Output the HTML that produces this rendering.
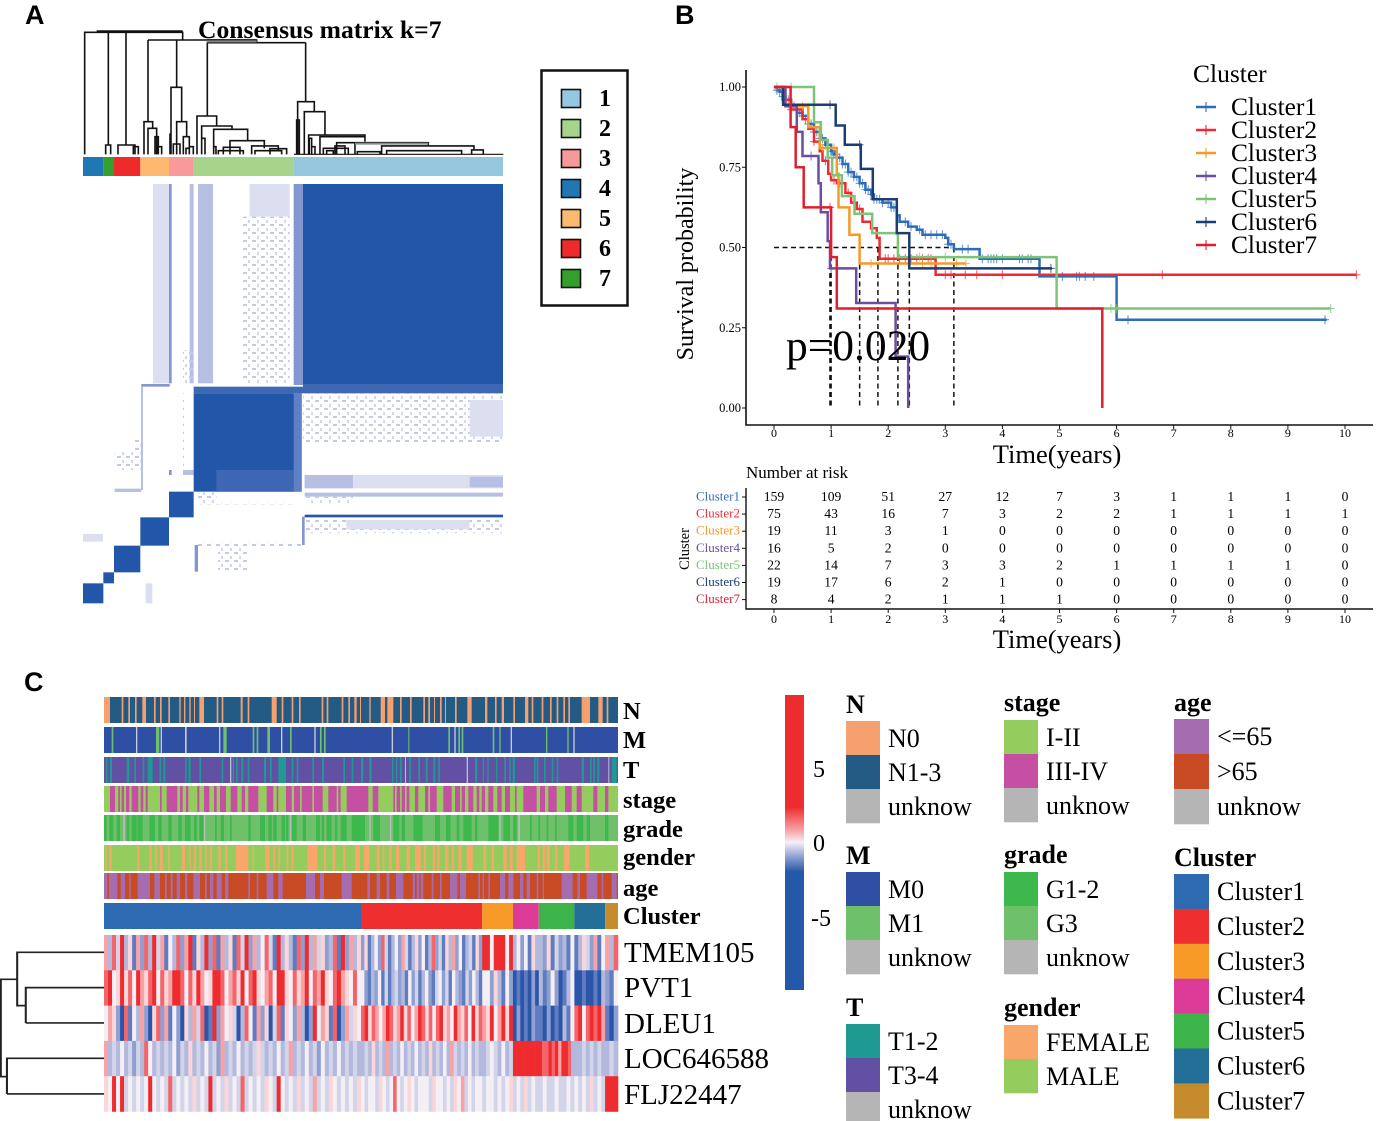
<!DOCTYPE html>
<html lang="en">
<head>
<meta charset="utf-8">
<title>Consensus clustering, survival and heatmap figure</title>
<style>
html,body{margin:0;padding:0;background:#fff;}
svg{display:block;}
text{font-family:"Liberation Serif","DejaVu Serif",serif;fill:#000;}
.panel{font-family:"Liberation Sans","DejaVu Sans",sans-serif;font-weight:700;font-size:27px;}
</style>
</head>
<body>
<svg id="fig" xmlns="http://www.w3.org/2000/svg" width="1380" height="1121" viewBox="0 0 1380 1121">
<defs>
<pattern id="dots" width="9" height="8" patternUnits="userSpaceOnUse">
<rect x="0" y="0" width="4" height="2" fill="#c3c9e6"/>
<rect x="5" y="4" width="2" height="3" fill="#d3d7ec"/>
</pattern>
<linearGradient id="cbar" x1="0" y1="0" x2="0" y2="1">
<stop offset="0" stop-color="#ee2c2f"/>
<stop offset="0.38" stop-color="#ee2c2f"/>
<stop offset="0.46" stop-color="#f7a5a8"/>
<stop offset="0.5" stop-color="#f4f0f6"/>
<stop offset="0.55" stop-color="#8d9dd0"/>
<stop offset="0.6" stop-color="#2458a8"/>
<stop offset="1" stop-color="#2458a8"/>
</linearGradient>
</defs>
<rect width="1380" height="1121" fill="#fff"/>
<text class="panel" x="25" y="24">A</text>
<text class="panel" x="675" y="24">B</text>
<text class="panel" x="24" y="691">C</text>

<!-- Panel A -->
<g id="panelA">
<g transform="translate(70,20) scale(.3333)" fill="none" stroke="#111" stroke-width="4.8">
<path d="M44 403V37H338V60M80 33H338M115 37V375M107 403V375H122V403M168 37V375M144 403V375H195V403M190 403V380H205V403"/>
<path d="M234 60H560M234 60V305M222 403V305H248V325M234 403V325H260V403M255 403V350H265V403M262 403V380H275V403"/>
<path d="M320 60V202M303 403V202H335V305M320 403V305H350V350M340 403V350H358V380H370V403M310 403V372H330V403M300 403V340M348 403V385H358V403"/>
<path d="M412 68H707M410 60H560V68M412 68V288M381 403V288H440V318M395 403V318H486V325M431 403V328H533V360M480 403V362H583V385M545 403V378H625V392M555 403V392H635V403M600 403V386H650V403M395 403V355H405V403M431 403V380H438V403M445 403V392H520V403M460 403V382H510V403"/>
<path d="M707 68V245M683 403V245H733V275M703 403V275H765V345M716 403V345H885V365M750 403V350H885M855 403V368H1075V378M935 403V378H1212V392M950 403V392H1175V403M862 403V395H930V403M1205 403V390H1240V403M760 403V385H835V403M795 403V378H825V403M680 403V300H688V403M718 403V355H725V403M725 403V380H735V403M770 403V392H790V403M800 403V368H855"/>
<path d="M672 403H1300" stroke-width="3.5"/>
<path d="M410 64H560M855 371H1075" stroke="#888" stroke-width="6"/>
</g>
<g id="consensusBar"></g>
<g id="consensusMatrix"></g>
<text x="198" y="38" font-weight="700" font-size="25.6">Consensus matrix k=7</text>
<g>
<rect x="541.5" y="70.5" width="86" height="235" fill="#fff" stroke="#111" stroke-width="2.5"/>
<g id="consensusLegend"></g>
</g>
</g>

<!-- Panel B -->
<g id="panelB">
<g id="kmDash"></g>
<g id="kmLines"></g>
<path d="M746 70V425H1373" fill="none" stroke="#111" stroke-width="1.6"/>
<g id="kmAxis"></g>
<text transform="translate(693,264) rotate(-90)" text-anchor="middle" font-size="24">Survival probability</text>
<text x="1057" y="463" text-anchor="middle" font-size="26.5">Time(years)</text>
<text x="786" y="360" font-size="43.5">p=0.020</text>
<text x="1193" y="82" font-size="25.5">Cluster</text>
<g id="kmLegend"></g>
<text x="746" y="478" font-size="17">Number at risk</text>
<text transform="translate(689,549) rotate(-90)" text-anchor="middle" font-size="14.5">Cluster</text>
<path d="M746 488V609H1373" fill="none" stroke="#111" stroke-width="1.4"/>
<g id="riskTable"></g>
<text x="1057" y="648" text-anchor="middle" font-size="26.5">Time(years)</text>
</g>

<!-- Panel C -->
<g id="panelC">
<g transform="translate(0,690) scale(.409,.3333)" fill="none" stroke="#222" stroke-width="5">
<path d="M255 787H42V947H63M63 999V893H255M63 999H255M42 868H2V1160H17M17 1212V1105H255M17 1212H255"/>
</g>
<g id="annotations"></g>
<g id="heatmap"></g>
<rect x="785" y="695" width="19" height="295" fill="url(#cbar)"/>
<text x="813" y="777" font-size="24">5</text>
<text x="813" y="851" font-size="24">0</text>
<text x="811" y="926" font-size="24">-5</text>
<g id="heatLegend"></g>
</g>
</svg>

<script>
// ---------- Panel A data (matrix grid units) ----------
var consensusEdges=[40,101,133,212,298,372,672,1300];
var consensusBarColors=['#1f78b4','#33a02c','#ee2a2a','#fdb96f','#f89a9b','#a6d48a','#95c8de'];
var consensusBlockY=[1270,1210,1177,1097,1012,935,640,12];
var consensusRegions=[
[250,298,12,610,'f'],[298,306,12,610,'m'],[360,372,12,610,'l'],[385,430,12,610,'l'],
[540,660,12,110,'f'],[515,660,110,610,'p'],[672,700,12,615,'m'],[700,1300,612,640,'k'],
[372,700,620,640,'k'],[215,300,612,620,'m'],[214,220,620,930,'l'],[135,215,926,936,'l'],
[190,215,780,870,'p'],[135,190,810,870,'p'],
[700,1300,640,790,'p'],[1200,1300,660,770,'f'],[705,1300,885,925,'f'],[1200,1300,890,922,'l'],
[705,850,885,925,'l'],[705,1300,938,950,'l'],[705,850,950,970,'p'],[705,1300,1004,1012,'d'],
[705,1300,1018,1060,'p'],[830,1200,1020,1048,'f'],[697,705,1010,1095,'m'],[385,700,1088,1098,'p'],
[375,385,1095,1175,'m'],[445,535,1100,1175,'p'],[40,100,1062,1085,'f'],[228,248,1210,1270,'f'],
[298,306,870,885,'m'],[340,372,870,885,'l'],[340,345,640,870,'p'],[298,303,620,930,'p'],
[385,440,935,970,'p'],[390,670,968,973,'p'],[340,372,510,610,'p']
];
var consensusLegendNames=['1','2','3','4','5','6','7'];
var consensusLegendColors=['#95c8de','#a6d48a','#f59a99','#1f78b4','#fdb96f','#ee2a2a','#33a02c'];

// ---------- Panel B data ----------
var timeTicks=[0,1,2,3,4,5,6,7,8,9,10];
var survivalTicks=['0.00','0.25','0.50','0.75','1.00'];
var clusterNames=['Cluster1','Cluster2','Cluster3','Cluster4','Cluster5','Cluster6','Cluster7'];
var clusterColors=['#2d6db8','#ee2a33','#f59a28','#6a4f9c','#7cc576','#1c3c74','#e01f2e'];

var cluster1Times=[0,.05,.1,.15,.2,.3,.4,.5,.6,.7,.8,.9,1,1.05,1.1,1.2,1.3,1.4,1.5,1.6,1.7,1.75,1.9,2.05,2.15,2.2,2.35,2.5,2.6,3,3.05,3.15,3.6,4.65,6,9.68];
var cluster1Surv=[1,.99,.985,.97,.96,.94,.92,.91,.885,.86,.84,.82,.80,.79,.78,.76,.735,.72,.70,.68,.665,.65,.64,.625,.60,.58,.565,.555,.54,.53,.51,.495,.465,.41,.275,.275];
var cluster1Censor=[.05,.1,.15,.25,.3,.35,.45,.5,.6,.65,.7,.75,.8,.85,.9,.95,1,1.02,1.05,1.08,1.1,1.15,1.2,1.25,1.3,1.35,1.4,1.45,1.5,1.55,1.6,1.65,1.7,1.75,1.8,1.85,1.9,2,2.05,2.1,2.3,2.4,2.55,2.65,2.75,2.85,2.95,3.05,3.1,3.3,3.4,3.65,3.75,3.8,3.85,3.9,4,4.3,4.35,4.45,4.5,5.05,5.3,5.35,5.45,5.6,6.2,9.65];

var cluster2Times=[0,.15,.3,.5,.6,.7,.8,.85,.95,1,1.1,1.25,1.35,1.45,1.55,1.7,1.8,1.85,2.83,10.2];
var cluster2Surv=[1,.96,.93,.90,.87,.83,.80,.77,.73,.71,.70,.67,.64,.62,.58,.56,.53,.465,.415,.415];
var cluster2Censor=[.3,.55,.7,.9,1.05,1.15,1.3,1.5,1.95,2,2.1,2.2,2.3,2.4,2.5,2.6,2.7,2.75,3,3.1,3.35,3.55,4,6.8,10.2];

var cluster3Times=[0,.2,.6,.8,1.1,1.13,1.32,1.5,3.36];
var cluster3Surv=[1,.94,.875,.81,.73,.625,.54,.45,.45];
var cluster3Censor=[.25,.5,.85,1.05,1.7,2.35,2.6,2.75,3.2,3.36];

var cluster4Times=[0,.2,.4,.5,.78,.82,.94,.98,1.44,2.13,2.35];
var cluster4Surv=[1,.94,.86,.785,.70,.61,.52,.435,.327,.16,0];
var cluster4Censor=[.65,1];

var cluster5Times=[0,.7,.82,.94,1.02,1.19,1.41,1.72,2.17,4.95,9.75];
var cluster5Surv=[1,.89,.835,.78,.725,.66,.605,.545,.47,.31,.31];
var cluster5Censor=[.05,.3,2.55,3,5.9,6,9.75];

var cluster6Times=[0,.16,1.08,1.24,1.52,1.73,2.15,2.37,4.87];
var cluster6Surv=[1,.945,.88,.82,.745,.65,.545,.435,.435];
var cluster6Censor=[.98,1.5,4.85];

var cluster7Times=[0,.29,.38,.52,1,1.1,5.75];
var cluster7Surv=[1,.875,.75,.625,.47,.31,0];
var cluster7Censor=[.98];

var medianTimes=[.98,1,1.5,1.82,2.17,2.37,3.15];
var medianLevel=.5;

var riskCluster1=[159,109,51,27,12,7,3,1,1,1,0];
var riskCluster2=[75,43,16,7,3,2,2,1,1,1,1];
var riskCluster3=[19,11,3,1,0,0,0,0,0,0,0];
var riskCluster4=[16,5,2,0,0,0,0,0,0,0,0];
var riskCluster5=[22,14,7,3,3,2,1,1,1,1,0];
var riskCluster6=[19,17,6,2,1,0,0,0,0,0,0];
var riskCluster7=[8,4,2,1,1,1,0,0,0,0,0];

// ---------- Panel C data ----------
var clusterSizes=[159,75,19,16,22,19,8];
var annotationNames=['N','M','T','stage','grade','gender','age','Cluster'];
var annotationTop=[697,727,757,786,815,845,873,903];
var annotationLabelY=[719,748,778,808,837,865,896,924];
// Track runs: [first, last] on a 0-1542 track scale, split into the left and right half of the samples.
var trackHalfOffsets=[-12,768];
var trackNOrange=[
[[12,30],[65,70],[85,90],[105,110],[127,138],[162,167],[180,185],[205,210],[238,242],[252,256],[268,272],[282,285],[298,312],[350,355],[365,370],[422,428],[443,448],[515,530],[545,550],[575,580],[597,602],[665,670],[680,685],[725,730],[745,750],[763,770]],
[[0,3],[28,32],[62,75],[82,100],[120,125],[150,155],[190,195],[205,210],[222,225],[240,245],[255,258],[285,290],[322,335],[375,382],[405,410],[425,432],[460,465],[495,505],[515,520],[545,550],[570,575],[590,595],[610,615],[625,630],[665,690],[715,728],[740,745]]
];
var trackMGreen=[
[[35,40],[168,178],[370,380],[458,463],[470,475],[502,510],[570,575],[660,665],[672,677]],
[[145,148],[265,270],[295,300],[305,310],[398,403],[418,422],[558,562],[622,626]]
];
var trackMGray=[
[[108,112],[182,186],[255,260],[357,361],[543,547],[643,647]],
[[95,99],[283,287],[452,456],[640,644]]
];
var trackTTeal=[
[[18,22],[30,36],[80,88],[103,108],[128,133],[143,158],[178,183],[190,196],[255,260],[265,272],[298,303],[365,370],[398,402],[408,413],[424,430],[443,448],[492,498],[510,515],[535,558],[575,580],[590,595],[637,642],[666,672],[730,735],[755,760]],
[[3,10],[28,35],[96,100],[108,112],[120,125],[148,153],[175,180],[197,203],[220,226],[235,240],[345,352],[368,372],[382,386],[408,412],[433,438],[448,452],[458,465],[522,527],[530,535],[552,557],[575,580],[590,595],[665,672],[690,695],[700,705],[712,718],[755,770]]
];
var trackTGray=[[[390,394]],[[135,138],[320,324],[745,748]]];
var trackStagePink=[
[[30,45],[55,60],[65,72],[78,88],[95,115],[122,130],[137,143],[180,185],[200,232],[240,248],[258,265],[292,298],[312,328],[342,350],[360,378],[392,412],[425,435],[445,475],[500,520],[530,535],[558,575],[582,600],[605,637],[642,668],[685,710],[715,722],[740,780]],
[[0,25],[38,55],[100,105],[110,120],[125,135],[140,148],[165,175],[195,205],[210,230],[250,275],[285,300],[305,315],[325,340],[350,358],[365,375],[385,400],[412,425],[435,450],[465,470],[490,530],[540,555],[565,590],[615,635],[650,665],[700,712],[735,745]]
];
var trackGradeDark=[
[[12,20],[28,40],[50,60],[80,88],[95,110],[112,128],[148,165],[175,185],[205,215],[235,245],[255,272],[282,290],[298,310],[345,350],[362,372],[390,395],[445,452],[480,495],[505,515],[520,530],[545,555],[558,565],[575,590],[608,618],[648,660],[665,672],[680,695],[705,712],[722,740],[755,780]],
[[0,15],[40,60],[100,118],[125,135],[160,188],[225,240],[258,272],[290,298],[310,335],[345,352],[385,415],[430,450],[460,470],[510,515],[535,540],[560,565],[585,590],[625,640],[650,670],[680,690],[735,745]]
];
var trackGradeGray=[[[70,75],[312,316],[570,574]],[[28,32],[90,94],[418,422],[475,480]]];
var trackGenderOrange=[
[[15,20],[28,35],[112,118],[148,155],[165,170],[180,188],[205,210],[245,255],[268,272],[282,288],[298,305],[315,320],[330,335],[355,362],[375,382],[408,445],[458,462],[495,508],[520,525],[535,540],[560,565],[575,580],[622,652],[672,678],[698,705],[730,735],[765,780]],
[[12,28],[50,58],[68,73],[88,95],[108,118],[140,150],[165,182],[192,198],[218,225],[232,238],[255,265],[275,282],[295,305],[320,338],[370,378],[395,402],[430,440],[450,458],[470,495],[533,540],[548,555],[560,570],[585,592],[612,628],[675,687]]
];
var trackAgePurple=[
[[12,22],[27,52],[62,75],[88,92],[113,150],[163,180],[195,200],[212,218],[230,240],[255,262],[280,300],[315,320],[330,340],[350,365],[375,385],[445,450],[470,475],[500,520],[535,548],[618,645],[660,672],[725,755]],
[[22,30],[50,60],[80,88],[108,130],[158,165],[170,178],[182,190],[215,220],[240,245],[270,292],[300,318],[355,360],[368,372],[385,390],[420,435],[445,460],[480,490],[500,510],[530,535],[548,552],[605,638],[652,660],[680,712],[725,730],[755,770]]
];
var clusterTrackColors=['#2e6ab2','#ef2f2f','#f79a28','#dc3c98','#3cb44a','#236f97','#c68b2c'];

var geneNames=['TMEM105','PVT1','DLEU1','LOC646588','FLJ22447'];
var geneLabelY=[962,997,1033,1068,1104];
var exprTMEM105=['7384936172839471538279163928173618492735841936318293746238192736','261352841352741362513824163725134162','99599959','3525163','326142315','13642715','738'];
var exprPVT1=['8956968597689586799858697569985786958965785996586795879658976585','521325141342315241352145241532142531','55263152','0101020','312520135','00100103','215'];
var exprDLEU1=['5762081537206827152063748019275640385172604816527302957618027465','8968757986796857986858967597685968','76957969','0201021','102010315','89589897','102'];
var exprLOC646588=['7343534243853434352436343534273435343464343534734353425343534343','3436343734353435343634353743435343','34543534','9999999','98898979983','33434343','343'];
var exprFLJ22447=['6595945454595454845454645494546454845454654954546454745465454546','5455465458545654555465545465745455','45545456','4546454','454454454','54546454','999'];
var exprLevels=['#2a55a8','#5f7cc0','#8f9fd2','#b2b9dd','#d2d4e9','#f4eff5','#fbd6d8','#f8a2a6','#f46468','#ee2c2f'];

// ---------- helpers ----------
var NS='http://www.w3.org/2000/svg';
function el(parent,tag,props){
  var n=document.createElementNS(NS,tag);
  for(var k in props){n.setAttribute(k,props[k]);}
  parent.appendChild(n);
  return n;
}
function gx(v){return 83+(v-40)/3;}
function gy(v){return 184+(v-12)/3;}
function timeX(t){return 774+t*57.1;}
function survY(s){return 408-s*321;}
function heatX(sample){return 104+sample*514/318;}
function trackX(u){return 104+u/3;}

// ---------- Panel A ----------
var barG=document.getElementById('consensusBar');
consensusBarColors.forEach(function(c,i){
  var r=el(barG,'rect',{x:gx(consensusEdges[i]),y:157,width:gx(consensusEdges[i+1])-gx(consensusEdges[i]),height:19,fill:c});
  
  
});
var kindFill={f:'#dcdff0',l:'#b7c0e2',m:'#8496d0',k:'#3f68b4',d:'#2256a8',p:'url(#dots)'};
var matG=document.getElementById('consensusMatrix');
consensusRegions.forEach(function(q){
  var r=el(matG,'rect',{x:gx(q[0]),y:gy(q[2]),width:(q[1]-q[0])/3,height:(q[3]-q[2])/3,fill:kindFill[q[4]]});
  
  
});
for(var b=0;b<consensusBlockY.length-1;b++){
  var bx0=consensusEdges[b],bx1=consensusEdges[b+1];
  if(b===6){bx0=700;}
  if(b===5){bx1=696;}
  var bTop=consensusBlockY[b+1];
  var bBot=consensusBlockY[b];
  if(b===6){bBot=612;}
  var br=el(matG,'rect',{x:gx(bx0),y:gy(bTop),width:(bx1-bx0)/3,height:(bBot-bTop)/3,fill:'#2256a8'});
  
  
}
var strip=el(matG,'rect',{x:gx(440),y:gy(870),width:(672-440)/3,height:(935-870)/3,fill:'#3d66b4'});


var strip2=el(matG,'rect',{x:gx(672),y:gy(640),width:24/3,height:(935-640)/3,fill:'#5f7fc6'});



var lgA=document.getElementById('consensusLegend');
consensusLegendNames.forEach(function(n,i){
  var r=el(lgA,'rect',{x:561.5,y:89.5+i*30,width:19,height:18,fill:consensusLegendColors[i],stroke:'#111','stroke-width':1.6});
  
  
  var t=el(lgA,'text',{x:599,y:106+i*30,'font-size':24,'font-weight':700});
  t.textContent=n;
  
  
});

// ---------- Panel B ----------
var kmD=document.getElementById('kmDash');
var hd=el(kmD,'line',{x1:timeX(0),x2:timeX(medianTimes[medianTimes.length-1]),y1:survY(medianLevel),y2:survY(medianLevel),stroke:'#111','stroke-width':1.5,'stroke-dasharray':'5 3.5'});


medianTimes.forEach(function(t,i){
  var l=el(kmD,'line',{x1:timeX(t),x2:timeX(t),y1:survY(medianLevel),y2:survY(0),stroke:'#111','stroke-width':1.5,'stroke-dasharray':'5 3.5'});
  
  
});
var kmSeries=[
 [cluster1Times,cluster1Surv,cluster1Censor],
 [cluster2Times,cluster2Surv,cluster2Censor],
 [cluster3Times,cluster3Surv,cluster3Censor],
 [cluster4Times,cluster4Surv,cluster4Censor],
 [cluster5Times,cluster5Surv,cluster5Censor],
 [cluster6Times,cluster6Surv,cluster6Censor],
 [cluster7Times,cluster7Surv,cluster7Censor]
];
function survAt(times,surv,t){
  var s=surv[0];
  for(var i=0;i<times.length;i++){ if(times[i]<=t){s=surv[i];} }
  return s;
}
var kmG=document.getElementById('kmLines');
kmSeries.forEach(function(sr,i){
  var T=sr[0],S=sr[1],d='M'+timeX(T[0]).toFixed(1)+' '+survY(S[0]).toFixed(1);
  for(var k=1;k<T.length;k++){
    d+='H'+timeX(T[k]).toFixed(1)+'V'+survY(S[k]).toFixed(1);
  }
  var p=el(kmG,'path',{d:d,fill:'none',stroke:clusterColors[i],'stroke-width':2.5});
  
  
  var cd='';
  sr[2].forEach(function(t){
    var x=timeX(t),y=survY(survAt(T,S,t));
    cd+='M'+(x-4).toFixed(1)+' '+y.toFixed(1)+'h8M'+x.toFixed(1)+' '+(y-4.5).toFixed(1)+'v9';
  });
  var c=el(kmG,'path',{d:cd,fill:'none',stroke:clusterColors[i],'stroke-width':1.1,opacity:.7});
  
  
});
var axG=document.getElementById('kmAxis');
survivalTicks.forEach(function(lbl){
  var y=survY(parseFloat(lbl));
  var tm=el(axG,'line',{x1:742,x2:746,y1:y,y2:y,stroke:'#111','stroke-width':1});
  
  
  var t=el(axG,'text',{x:741,y:y+4,'text-anchor':'end','font-size':12.5});
  t.textContent=lbl;
  
  
});
timeTicks.forEach(function(v){
  var x=timeX(v);
  var tm=el(axG,'line',{x1:x,x2:x,y1:425,y2:429,stroke:'#111','stroke-width':1});
  
  
  var t=el(axG,'text',{x:x,y:437,'text-anchor':'middle','font-size':12});
  t.textContent=v;
  
  
  var tm2=el(axG,'line',{x1:x,x2:x,y1:609,y2:613,stroke:'#111','stroke-width':1});
  
  
  var t2=el(axG,'text',{x:x,y:623,'text-anchor':'middle','font-size':12});
  t2.textContent=v;
  
  
});
var lgB=document.getElementById('kmLegend');
clusterNames.forEach(function(n,i){
  var y=107+i*23;
  var ln=el(lgB,'path',{d:'M1196 '+y+'H1216',stroke:clusterColors[i],'stroke-width':2.6,fill:'none'});
  
  
  var ln2=el(lgB,'path',{d:'M1206 '+(y-5)+'V'+(y+5),stroke:clusterColors[i],'stroke-width':1.1,fill:'none'});
  
  
  var t=el(lgB,'text',{x:1231,y:y+8,'font-size':25.4});
  t.textContent=n;
  
  
});
var riskRows=[riskCluster1,riskCluster2,riskCluster3,riskCluster4,riskCluster5,riskCluster6,riskCluster7];
var rkG=document.getElementById('riskTable');
riskRows.forEach(function(row,i){
  var y=501+i*17.1;
  var nm=el(rkG,'text',{x:740,y:y-.5,'text-anchor':'end','font-size':13,style:'fill:'+clusterColors[i]});
  nm.textContent=clusterNames[i];
  
  
  var rt=el(rkG,'line',{x1:742,x2:746,y1:y-4,y2:y-4,stroke:'#111','stroke-width':1});
  
  
  row.forEach(function(v,j){
    var t=el(rkG,'text',{x:timeX(timeTicks[j]),y:y,'text-anchor':'middle','font-size':13.6});
    t.textContent=v;
    
    
  });
});

// ---------- Panel C ----------
var anG=document.getElementById('annotations');
function drawTrack(top,base,layers,name){
  var r=el(anG,'rect',{x:104,y:top,width:514,height:26,fill:base});
  
  
  layers.forEach(function(layer){
    layer[0].forEach(function(runs,h){
      runs.forEach(function(run){
        var u0=Math.max(0,run[0]+trackHalfOffsets[h]);
        var u1=Math.min(1542,run[1]+trackHalfOffsets[h]);
        var m=el(anG,'rect',{x:trackX(u0),y:top,width:(u1-u0)/3,height:26,fill:layer[1]});
        
        
      });
    });
  });
}
drawTrack(annotationTop[0],'#235b84',[[trackNOrange,'#f6a06f']],'n');
drawTrack(annotationTop[1],'#2e4fa3',[[trackMGreen,'#6fc06a'],[trackMGray,'#c8ccd8']],'m');
drawTrack(annotationTop[2],'#6250a4',[[trackTTeal,'#1f9a92'],[trackTGray,'#c2bed6']],'t');
drawTrack(annotationTop[3],'#95cc5e',[[trackStagePink,'#c54fa2']],'stage');
drawTrack(annotationTop[4],'#6fc06a',[[trackGradeDark,'#3db84c'],[trackGradeGray,'#bcbcbc']],'grade');
drawTrack(annotationTop[5],'#95cc5e',[[trackGenderOrange,'#f9a66a']],'gender');
drawTrack(annotationTop[6],'#c94b25',[[trackAgePurple,'#a56cb0']],'age');
var cum=0;
clusterSizes.forEach(function(n,i){
  var r=el(anG,'rect',{x:heatX(cum),y:annotationTop[7],width:n*514/318,height:26,fill:clusterTrackColors[i]});
  
  
  cum+=n;
});
annotationNames.forEach(function(n,i){
  var t=el(anG,'text',{x:623,y:annotationLabelY[i],'font-size':24.5,'font-weight':700});
  t.textContent=n;
  
  
});
var hmG=document.getElementById('heatmap');
var hmRows=[exprTMEM105,exprPVT1,exprDLEU1,exprLOC646588,exprFLJ22447];
var rowH=176.5/5;
hmRows.forEach(function(row,r){
  var start=0;
  row.forEach(function(seg,c){
    var size=clusterSizes[c],cw=size/seg.length;
    for(var k=0;k<seg.length;k++){
      var x0=heatX(start+k*cw),x1=heatX(start+(k+1)*cw);
      var cell=el(hmG,'rect',{x:x0,y:935+r*rowH,width:x1-x0+.3,height:rowH+.3,fill:exprLevels[+seg[k]]});
      
      
    }
    start+=size;
  });
  var t=el(hmG,'text',{x:624,y:geneLabelY[r],'font-size':29});
  t.textContent=geneNames[r];
  
  
});
var legendGroups=[
 ['N',846,713,721,34,[['N0','#f6a06f'],['N1-3','#235b84'],['unknow','#b5b5b5']]],
 ['M',846,864,872,34,[['M0','#2e4fa3'],['M1','#6fc06a'],['unknow','#b5b5b5']]],
 ['T',846,1016,1024,34,[['T1-2','#1f9a92'],['T3-4','#6250a4'],['unknow','#b5b5b5']]],
 ['stage',1004,711,720,34,[['I-II','#95cc5e'],['III-IV','#c54fa2'],['unknow','#b5b5b5']]],
 ['grade',1004,863,872,34,[['G1-2','#3db84c'],['G3','#6fc06a'],['unknow','#b5b5b5']]],
 ['gender',1004,1016,1025,34,[['FEMALE','#f9a66a'],['MALE','#95cc5e']]],
 ['age',1174,711,719,35,[['<=65','#a56cb0'],['>65','#c94b25'],['unknow','#b5b5b5']]],
 ['Cluster',1174,866,874,34.9,[['Cluster1','#2e6ab2'],['Cluster2','#ef2f2f'],['Cluster3','#f79a28'],['Cluster4','#dc3c98'],['Cluster5','#3cb44a'],['Cluster6','#236f97'],['Cluster7','#c68b2c']]]
];
var hlG=document.getElementById('heatLegend');
legendGroups.forEach(function(g){
  var tt=el(hlG,'text',{x:g[1],y:g[2],'font-size':26,'font-weight':700});
  tt.textContent=g[0];
  
  
  var step=g[4],sw=g[1]===1174?35:34;
  g[5].forEach(function(it,i){
    var y=g[3]+i*step,h=Math.min(step+.3,1121-y);
    var r=el(hlG,'rect',{x:g[1],y:y,width:sw,height:h,fill:it[1]});
    
    
    var t=el(hlG,'text',{x:g[1]+sw+8,y:y+26,'font-size':26});
    t.textContent=it[0];
    
    
  });
});
</script>
</body>
</html>
